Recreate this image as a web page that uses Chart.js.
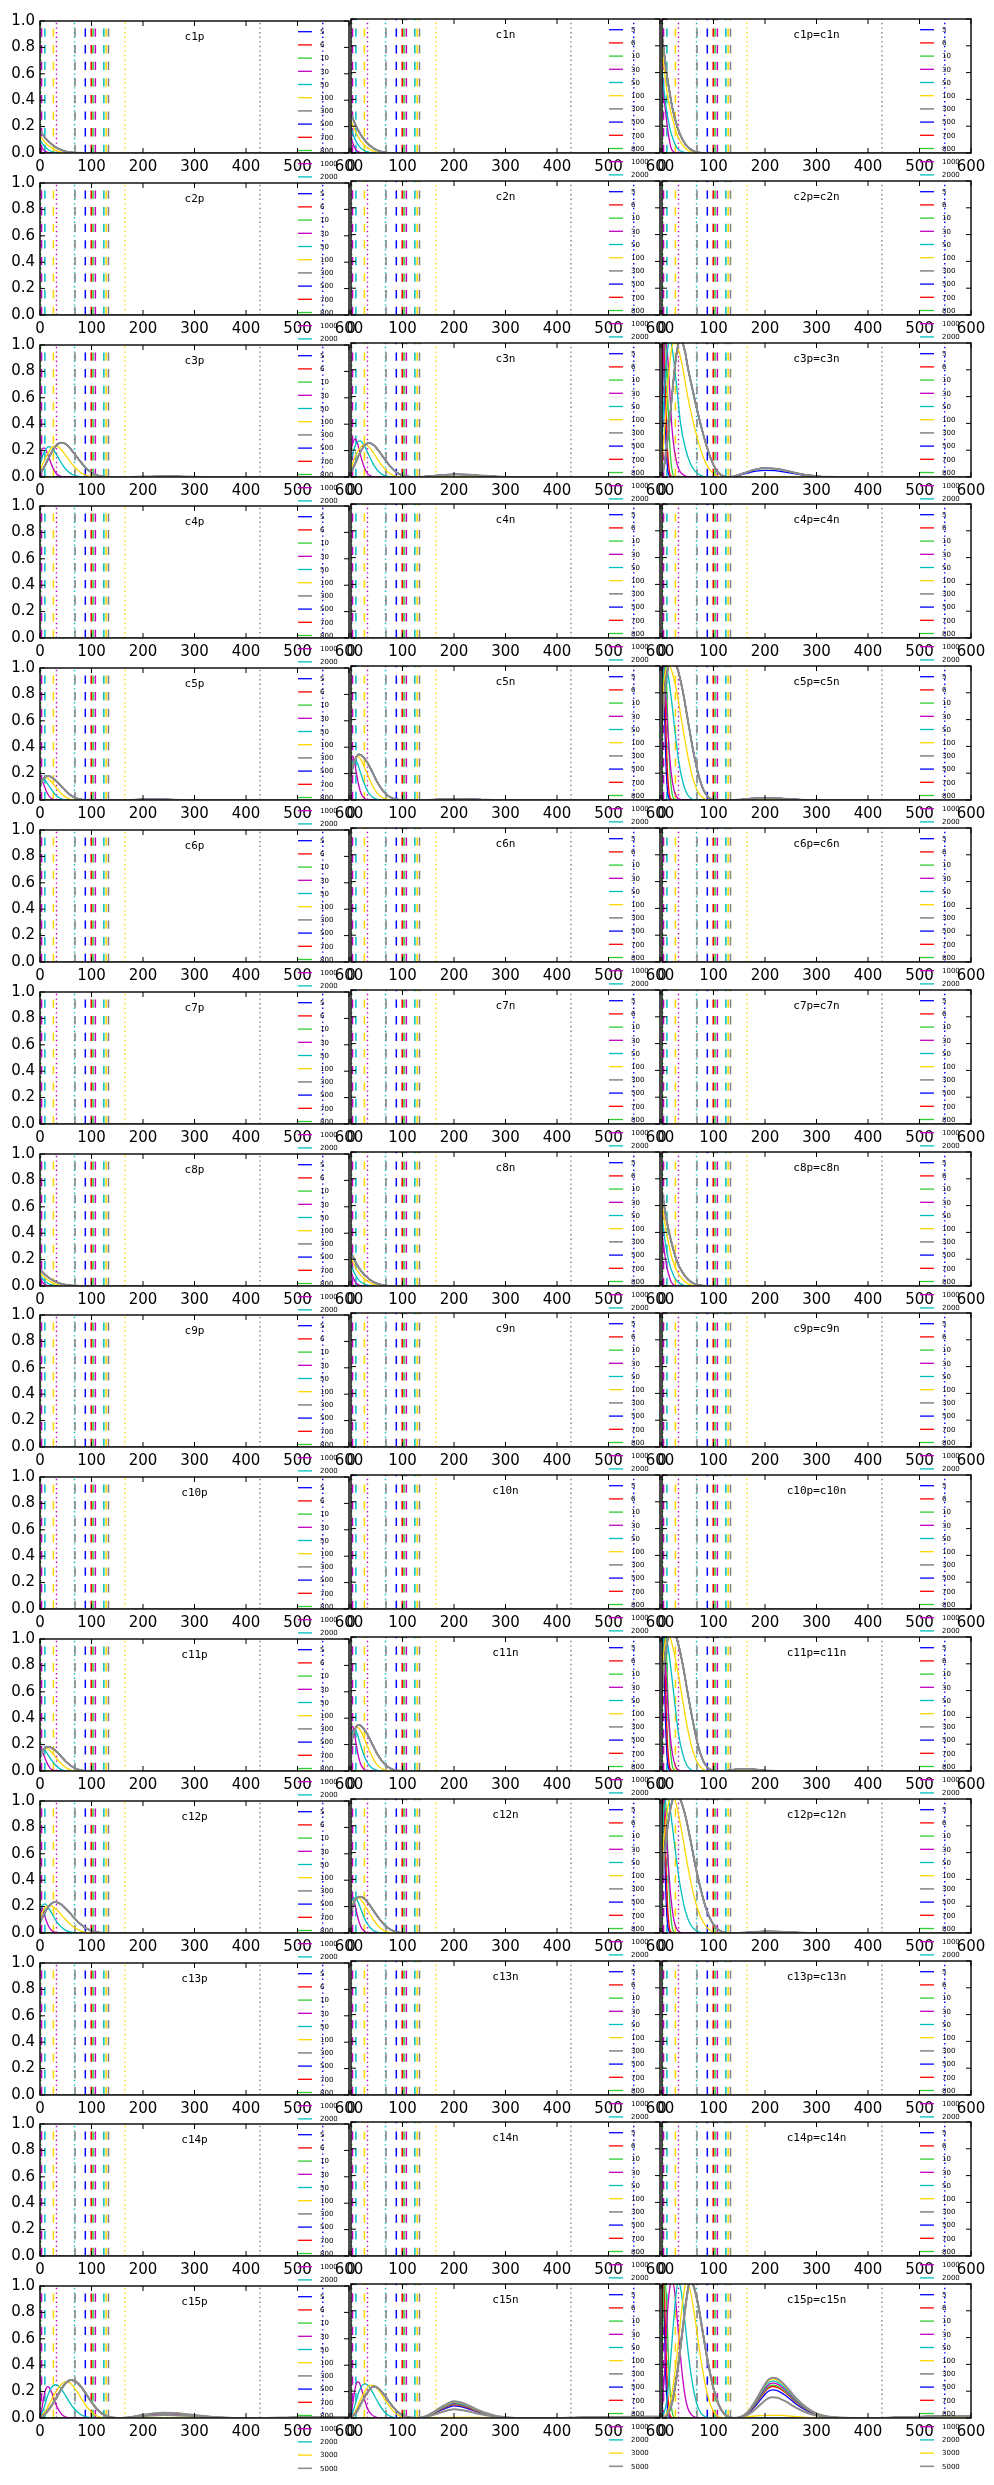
<!DOCTYPE html>
<html><head><meta charset="utf-8">
<script src="https://cdn.jsdelivr.net/npm/chart.js@4.4.0/dist/chart.umd.min.js"></script>
<style>
html,body{margin:0;padding:0;background:#fff;}
#fig{position:relative;width:994px;height:2485px;overflow:hidden;background:#fff;}
#fig canvas{position:absolute;}
</style></head><body><div id="fig"></div>
<script>
// ---------------- categories / labels ----------------
const SERIES_LABELS = ['5','6','10','30','50','100','300','500','700','800','1000','2000','3000','5000'];
const SERIES_COLORS = ['#0000ff','#ff0000','#32cd32','#bf00bf','#00bfbf','#ffd700','#8c8c8c',
                       '#0000ff','#ff0000','#32cd32','#bf00bf','#00bfbf','#ffd700','#8c8c8c'];
const ROW_NAMES = ['c1','c2','c3','c4','c5','c6','c7','c8','c9','c10','c11','c12','c13','c14','c15'];
const X_TICKS = [0,100,200,300,400,500,600];
const Y_TICKS = [0,0.2,0.4,0.6,0.8,1.0];
const X_TICK_LABELS = ['0','100','200','300','400','500','600'];
const Y_TICK_LABELS = ['0.0','0.2','0.4','0.6','0.8','1.0'];

// reference vertical lines (same in every panel)
const DASH_X = [3, 9.5, 26, 68, 88, 99.5, 103, 107.5, 124, 128.5, 133];
const DASH_COLORS = ['#bf00bf','#00bfbf','#ffd700','#808080','#0000ff','#ff0000','#32cd32','#bf00bf','#00bfbf','#ffd700','#808080'];
const DOT_X = [1.5, 32, 67, 165, 427, 549];
const DOT_COLORS = ['#32cd32','#bf00bf','#00bfbf','#ffd700','#808080','#0000ff'];

// ---------------- curve data: [x, y] points ----------------
const ZERO = [[0,0],[600,0]];
const SPIKE_5  = [[0,0.9],[2,1.02],[4,0.8],[7,0.35],[10,0.1],[14,0.01],[18,0],[600,0]];
const SPIKE_6  = [[0,0.75],[2,0.98],[4,1.02],[7,0.6],[10,0.25],[14,0.05],[18,0.005],[22,0],[600,0]];
const SPIKE_10 = [[0,0.5],[3,0.9],[6,1.02],[9,0.85],[12,0.5],[16,0.18],[20,0.04],[26,0],[600,0]];

// row c1
const C1P_30  = [[0,0.07],[4,0.04],[8,0.02],[12,0.008],[18,0.001],[25,0],[600,0]];
const C1P_50  = [[0,0.1],[5,0.07],[10,0.045],[15,0.028],[20,0.015],[30,0.004],[40,0],[600,0]];
const C1P_100 = [[0,0.13],[10,0.08],[20,0.045],[30,0.022],[40,0.008],[50,0.002],[60,0],[600,0]];
const C1P_HI  = [[0,0.17],[10,0.115],[20,0.075],[30,0.045],[40,0.025],[50,0.012],[60,0.005],[70,0.001],[80,0],[600,0]];
const C1N_30  = [[0,0.12],[4,0.07],[8,0.035],[12,0.015],[18,0.003],[25,0],[600,0]];
const C1N_50  = [[0,0.19],[5,0.13],[10,0.085],[15,0.055],[20,0.033],[30,0.01],[40,0.002],[50,0],[600,0]];
const C1N_100 = [[0,0.24],[10,0.15],[20,0.085],[30,0.045],[40,0.02],[50,0.007],[60,0.001],[70,0],[600,0]];
const C1N_HI  = [[0,0.29],[10,0.2],[20,0.13],[30,0.08],[40,0.045],[50,0.022],[60,0.009],[70,0.002],[80,0],[600,0]];
const C1E_30  = [[0,0.6],[3,0.45],[6,0.34],[9,0.24],[12,0.15],[15,0.08],[18,0.035],[22,0.01],[28,0],[600,0]];
const C1E_50  = [[0,0.62],[5,0.43],[10,0.29],[15,0.19],[20,0.12],[25,0.07],[30,0.035],[40,0.008],[50,0],[600,0]];
const C1E_100 = [[0,0.78],[5,0.6],[10,0.45],[15,0.34],[20,0.26],[30,0.13],[40,0.06],[50,0.02],[60,0.005],[70,0],[600,0]];
const C1E_HI  = [[0,0.88],[5,0.72],[10,0.57],[15,0.45],[20,0.34],[30,0.19],[40,0.1],[50,0.045],[60,0.018],[70,0.005],[80,0],[600,0]];

// row c3
const C3P_30  = [[0,0.17],[4,0.21],[8,0.22],[12,0.2],[18,0.14],[25,0.07],[32,0.025],[40,0.005],[50,0],[600,0]];
const C3P_50  = [[0,0.1],[6,0.17],[12,0.215],[18,0.23],[25,0.21],[35,0.15],[45,0.085],[55,0.04],[65,0.015],[80,0.002],[90,0],[600,0]];
const C3P_100 = [[0,0.05],[10,0.14],[20,0.21],[28,0.235],[35,0.23],[45,0.19],[55,0.135],[65,0.085],[75,0.045],[85,0.02],[95,0.006],[110,0],[600,0]];
const C3P_HI  = [[0,0.02],[10,0.09],[20,0.17],[30,0.23],[40,0.26],[50,0.25],[60,0.21],[70,0.16],[80,0.11],[90,0.065],[100,0.035],[110,0.015],[120,0.005],[135,0],[170,0],[200,0.003],[240,0.005],[280,0.003],[330,0],[600,0]];
const C3N_30  = [[0,0.2],[4,0.26],[8,0.285],[12,0.26],[18,0.17],[25,0.08],[32,0.025],[40,0.005],[50,0],[600,0]];
const C3N_50  = [[0,0.12],[6,0.21],[12,0.26],[18,0.27],[25,0.24],[35,0.16],[45,0.085],[55,0.035],[65,0.01],[75,0.002],[85,0],[600,0]];
const C3N_100 = [[0,0.06],[8,0.15],[16,0.21],[25,0.24],[32,0.235],[42,0.19],[52,0.13],[62,0.075],[72,0.035],[82,0.012],[95,0.002],[105,0],[600,0]];
const C3N_HI  = [[0,0.03],[8,0.1],[16,0.17],[25,0.23],[35,0.255],[45,0.235],[55,0.19],[65,0.135],[75,0.085],[85,0.045],[95,0.02],[105,0.007],[115,0.002],[125,0],[150,0.005],[175,0.014],[200,0.02],[225,0.018],[250,0.011],[280,0.004],[310,0],[600,0]];
const C3E_30  = [[0,0.55],[3,0.9],[6,1.02],[9,0.98],[12,0.85],[15,0.65],[19,0.38],[24,0.2],[29,0.1],[35,0.04],[45,0.008],[55,0],[600,0]];
const C3E_50  = [[0,0.25],[4,0.6],[8,0.85],[12,0.98],[16,1.02],[20,0.95],[25,0.8],[30,0.62],[36,0.4],[45,0.22],[55,0.1],[65,0.04],[75,0.012],[85,0.002],[95,0],[600,0]];
const C3E_100 = [[0,0.1],[5,0.35],[10,0.62],[15,0.85],[20,0.98],[25,1.02],[30,0.98],[40,0.82],[50,0.6],[60,0.42],[70,0.27],[80,0.15],[90,0.07],[100,0.025],[110,0.005],[120,0],[180,0],[200,0.003],[240,0.003],[280,0],[600,0]];
const C3E_MAIN = [[0,0.02],[5,0.1],[10,0.25],[15,0.43],[20,0.63],[25,0.82],[30,0.96],[35,1.02],[40,1.0],[45,0.93],[50,0.82],[60,0.64],[70,0.47],[80,0.32],[90,0.19],[100,0.09],[110,0.03],[120,0.005],[130,0]];
const C3E_BX = [140,160,180,200,220,240,260,280,300,320,340,600];
const C3E_B_HI  = [0.005,0.03,0.055,0.066,0.062,0.048,0.03,0.015,0.006,0.001,0,0];
const C3E_B_500 = [0.004,0.023,0.042,0.05,0.047,0.036,0.023,0.011,0.004,0.001,0,0];

// row c5
const C5P_30  = [[0,0.14],[3,0.15],[6,0.13],[10,0.09],[15,0.045],[20,0.018],[27,0.003],[35,0],[600,0]];
const C5P_50  = [[0,0.13],[5,0.16],[10,0.15],[15,0.12],[22,0.08],[30,0.04],[38,0.015],[46,0.003],[55,0],[600,0]];
const C5P_100 = [[0,0.12],[5,0.155],[10,0.17],[15,0.165],[22,0.14],[30,0.1],[40,0.055],[50,0.022],[60,0.005],[70,0],[600,0]];
const C5P_HI  = [[0,0.1],[5,0.15],[10,0.175],[15,0.182],[20,0.178],[30,0.15],[40,0.11],[50,0.068],[60,0.035],[70,0.014],[80,0.004],[90,0],[170,0],[200,0.004],[240,0.004],[280,0],[600,0]];
const C5N_30  = [[0,0.3],[3,0.33],[6,0.3],[10,0.21],[15,0.11],[20,0.045],[27,0.01],[35,0],[600,0]];
const C5N_50  = [[0,0.24],[4,0.29],[8,0.3],[12,0.28],[18,0.21],[25,0.13],[33,0.06],[42,0.02],[52,0.004],[60,0],[600,0]];
const C5N_100 = [[0,0.2],[5,0.28],[10,0.32],[15,0.32],[22,0.28],[30,0.21],[40,0.12],[50,0.055],[60,0.02],[70,0.005],[80,0],[600,0]];
const C5N_HI  = [[0,0.18],[5,0.27],[10,0.32],[15,0.34],[20,0.335],[30,0.29],[40,0.22],[50,0.14],[60,0.08],[70,0.038],[80,0.014],[90,0.004],[100,0],[140,0],[170,0.004],[200,0.007],[230,0.006],[260,0.002],[290,0],[600,0]];
const C5E_30  = [[0,1.0],[3,0.98],[6,0.85],[10,0.6],[14,0.37],[18,0.2],[23,0.08],[28,0.025],[35,0.004],[42,0],[600,0]];
const C5E_50  = [[0,0.85],[4,0.98],[8,1.0],[12,0.93],[18,0.76],[25,0.52],[32,0.3],[40,0.14],[48,0.05],[56,0.012],[65,0],[600,0]];
const C5E_100 = [[0,0.7],[5,0.92],[10,1.0],[15,1.0],[20,0.95],[30,0.78],[40,0.55],[50,0.33],[60,0.16],[70,0.06],[80,0.015],[90,0],[600,0]];
const C5E_HI  = [[0,0.55],[5,0.8],[10,0.95],[15,1.02],[22,1.04],[30,0.98],[40,0.82],[50,0.6],[60,0.38],[70,0.2],[80,0.08],[90,0.02],[100,0.003],[110,0],[140,0],[170,0.01],[200,0.015],[230,0.012],[260,0.004],[290,0],[600,0]];

// row c8
const C8P_30  = [[0,0.06],[4,0.035],[8,0.017],[12,0.007],[18,0.001],[25,0],[600,0]];
const C8P_50  = [[0,0.08],[5,0.055],[10,0.035],[15,0.021],[20,0.012],[30,0.003],[40,0],[600,0]];
const C8P_100 = [[0,0.1],[10,0.06],[20,0.033],[30,0.016],[40,0.006],[50,0.001],[60,0],[600,0]];
const C8P_HI  = [[0,0.125],[10,0.085],[20,0.055],[30,0.033],[40,0.018],[50,0.009],[60,0.004],[70,0.001],[80,0],[600,0]];
const C8N_30  = [[0,0.11],[4,0.065],[8,0.032],[12,0.014],[18,0.003],[25,0],[600,0]];
const C8N_50  = [[0,0.16],[5,0.11],[10,0.072],[15,0.046],[20,0.028],[30,0.009],[40,0.002],[50,0],[600,0]];
const C8N_100 = [[0,0.21],[10,0.13],[20,0.075],[30,0.04],[40,0.018],[50,0.006],[60,0.001],[70,0],[600,0]];
const C8N_HI  = [[0,0.25],[10,0.17],[20,0.11],[30,0.068],[40,0.038],[50,0.019],[60,0.008],[70,0.002],[80,0],[600,0]];
const C8E_30  = [[0,0.4],[3,0.3],[6,0.22],[9,0.15],[12,0.1],[15,0.06],[18,0.03],[22,0.01],[28,0],[600,0]];
const C8E_50  = [[0,0.52],[5,0.36],[10,0.24],[15,0.16],[20,0.1],[25,0.06],[30,0.033],[40,0.008],[50,0],[600,0]];
const C8E_100 = [[0,0.62],[5,0.48],[10,0.37],[15,0.28],[20,0.2],[30,0.105],[40,0.05],[50,0.018],[60,0.004],[70,0],[600,0]];
const C8E_HI  = [[0,0.7],[5,0.58],[10,0.47],[15,0.38],[20,0.3],[30,0.175],[40,0.1],[50,0.05],[60,0.022],[70,0.008],[80,0.002],[90,0],[600,0]];

// row c11
const C11P_30  = [[0,0.14],[3,0.15],[6,0.135],[10,0.095],[15,0.05],[20,0.02],[27,0.004],[35,0],[600,0]];
const C11P_50  = [[0,0.13],[5,0.16],[10,0.155],[15,0.125],[22,0.085],[30,0.045],[38,0.018],[46,0.005],[55,0],[600,0]];
const C11P_100 = [[0,0.12],[5,0.155],[10,0.17],[15,0.168],[22,0.145],[30,0.105],[40,0.06],[50,0.026],[60,0.007],[70,0],[600,0]];
const C11P_HI  = [[0,0.1],[5,0.15],[10,0.175],[15,0.183],[20,0.18],[30,0.155],[40,0.115],[50,0.073],[60,0.04],[70,0.017],[80,0.005],[90,0],[600,0]];
const C11N_30  = [[0,0.31],[3,0.335],[6,0.3],[10,0.2],[15,0.1],[20,0.04],[27,0.008],[35,0],[600,0]];
const C11N_50  = [[0,0.26],[4,0.3],[8,0.305],[12,0.28],[18,0.2],[25,0.12],[33,0.055],[42,0.018],[52,0.003],[60,0],[600,0]];
const C11N_100 = [[0,0.22],[5,0.29],[10,0.325],[15,0.32],[22,0.275],[30,0.2],[40,0.115],[50,0.05],[60,0.017],[70,0.004],[80,0],[600,0]];
const C11N_HI  = [[0,0.2],[5,0.28],[10,0.33],[15,0.343],[20,0.335],[30,0.285],[40,0.21],[50,0.135],[60,0.075],[70,0.035],[80,0.013],[90,0.003],[100,0],[600,0]];
const C11E_30  = [[0,1.0],[3,0.97],[6,0.83],[10,0.58],[14,0.35],[18,0.19],[23,0.075],[28,0.022],[35,0.003],[42,0],[600,0]];
const C11E_50  = [[0,0.87],[4,0.99],[8,1.0],[12,0.92],[18,0.74],[25,0.5],[32,0.28],[40,0.13],[48,0.045],[56,0.01],[65,0],[600,0]];
const C11E_100 = [[0,0.72],[5,0.93],[10,1.01],[15,1.0],[20,0.94],[30,0.76],[40,0.53],[50,0.31],[60,0.15],[70,0.055],[80,0.013],[90,0],[600,0]];
const C11E_HI  = [[0,0.57],[5,0.82],[10,0.96],[15,1.03],[22,1.04],[30,0.97],[40,0.8],[50,0.58],[60,0.37],[70,0.19],[80,0.075],[90,0.02],[100,0.003],[110,0],[120,0],[135,0.008],[150,0.014],[170,0.015],[190,0.008],[210,0.002],[230,0],[600,0]];

// row c12
const C12P_30  = [[0,0.2],[3,0.2],[6,0.17],[10,0.12],[15,0.065],[20,0.03],[27,0.008],[35,0],[600,0]];
const C12P_50  = [[0,0.17],[5,0.21],[10,0.22],[15,0.2],[22,0.155],[30,0.1],[40,0.05],[50,0.02],[60,0.006],[70,0],[600,0]];
const C12P_100 = [[0,0.12],[8,0.18],[15,0.205],[22,0.205],[30,0.185],[40,0.145],[50,0.1],[60,0.062],[70,0.033],[80,0.015],[90,0.005],[100,0],[600,0]];
const C12P_HI  = [[0,0.08],[10,0.16],[20,0.215],[28,0.234],[35,0.23],[45,0.205],[55,0.165],[65,0.12],[75,0.08],[85,0.048],[95,0.025],[105,0.011],[115,0.003],[125,0],[600,0]];
const C12N_30  = [[0,0.26],[3,0.27],[6,0.24],[10,0.17],[15,0.09],[20,0.04],[27,0.01],[35,0],[600,0]];
const C12N_50  = [[0,0.22],[4,0.255],[8,0.262],[12,0.245],[18,0.19],[25,0.12],[33,0.06],[42,0.022],[52,0.005],[60,0],[600,0]];
const C12N_100 = [[0,0.18],[5,0.235],[10,0.26],[15,0.262],[22,0.235],[30,0.185],[40,0.12],[50,0.065],[60,0.028],[70,0.009],[80,0.002],[90,0],[600,0]];
const C12N_HI  = [[0,0.15],[5,0.22],[10,0.255],[17,0.27],[25,0.26],[35,0.215],[45,0.16],[55,0.105],[65,0.06],[75,0.03],[85,0.012],[95,0.003],[105,0],[600,0]];
const C12E_30  = [[0,0.95],[3,1.02],[6,0.9],[10,0.65],[14,0.42],[18,0.24],[23,0.1],[28,0.035],[35,0.006],[42,0],[600,0]];
const C12E_50  = [[0,0.75],[5,0.95],[10,1.02],[15,0.95],[20,0.8],[27,0.58],[35,0.36],[45,0.17],[55,0.065],[65,0.02],[75,0.004],[85,0],[600,0]];
const C12E_100 = [[0,0.55],[8,0.85],[15,1.0],[22,1.02],[30,0.92],[40,0.72],[50,0.5],[60,0.31],[70,0.17],[80,0.08],[90,0.03],[100,0.008],[110,0],[600,0]];
const C12E_HI  = [[0,0.4],[8,0.7],[16,0.92],[26,1.03],[35,1.0],[45,0.88],[55,0.7],[65,0.5],[75,0.33],[85,0.19],[95,0.095],[105,0.04],[115,0.012],[125,0.002],[135,0],[150,0],[170,0.006],[200,0.012],[230,0.01],[260,0.004],[290,0],[600,0]];

// row c15 (14 series)
const C15P_30  = [[0,0],[4,0.08],[8,0.17],[12,0.225],[15,0.238],[18,0.23],[24,0.18],[30,0.11],[38,0.05],[46,0.015],[55,0.002],[65,0],[600,0]];
const C15P_50  = [[0,0],[8,0.08],[15,0.17],[22,0.23],[30,0.252],[38,0.235],[48,0.18],[58,0.115],[68,0.062],[80,0.025],[92,0.006],[105,0],[600,0]];
const C15P_100 = [[0,0],[10,0.05],[20,0.12],[30,0.19],[40,0.25],[50,0.275],[60,0.26],[70,0.21],[80,0.15],[90,0.09],[100,0.045],[110,0.017],[120,0.004],[130,0],[600,0]];
const C15P_MAIN = [[0,0],[10,0.03],[20,0.08],[30,0.14],[40,0.21],[50,0.265],[60,0.288],[70,0.275],[80,0.235],[90,0.18],[100,0.12],[110,0.07],[120,0.035],[130,0.013],[140,0.003],[150,0]];
const C15P_BX = [160,180,200,220,240,260,280,300,330,360,390];
const C15P_B_LO  = [0,0.0055,0.013,0.019,0.022,0.021,0.017,0.012,0.0055,0.0013,0];
const C15P_B_MID = [0,0.0075,0.018,0.026,0.03,0.0285,0.023,0.0165,0.0075,0.002,0];
const C15P_B_HI  = [0,0.01,0.024,0.035,0.04,0.038,0.031,0.022,0.01,0.0024,0];
const C15P_TAIL = [[420,0],[500,0.004],[600,0.006]];

const C15N_30  = [[0,0.02],[4,0.12],[8,0.22],[12,0.27],[16,0.265],[20,0.22],[26,0.14],[32,0.07],[40,0.025],[50,0.004],[60,0],[600,0]];
const C15N_50  = [[0,0.01],[8,0.1],[15,0.19],[22,0.245],[28,0.255],[35,0.235],[45,0.17],[55,0.1],[65,0.045],[75,0.015],[85,0.003],[95,0],[600,0]];
const C15N_100 = [[0,0],[10,0.06],[20,0.15],[30,0.22],[38,0.245],[45,0.24],[55,0.2],[65,0.14],[75,0.085],[85,0.04],[95,0.014],[105,0.003],[115,0],[160,0],[200,0.005],[240,0.004],[280,0],[600,0]];
const C15N_MAIN = [[0,0],[10,0.04],[20,0.11],[30,0.18],[40,0.228],[46,0.235],[55,0.215],[65,0.17],[75,0.115],[85,0.068],[95,0.033],[105,0.012],[115,0.003],[125,0]];
const C15N_BX = [130,145,160,175,190,200,210,225,245,265,285,305,330];
const C15N_B300  = [0,0.007,0.023,0.042,0.059,0.065,0.062,0.052,0.033,0.018,0.007,0.002,0];
const C15N_B500  = [0,0.009,0.032,0.059,0.081,0.09,0.086,0.072,0.045,0.024,0.009,0.003,0];
const C15N_B700  = [0,0.01,0.035,0.065,0.09,0.1,0.095,0.08,0.05,0.027,0.01,0.003,0];
const C15N_B800  = [0,0.011,0.037,0.068,0.095,0.105,0.1,0.084,0.053,0.028,0.011,0.003,0];
const C15N_B1000 = [0,0.011,0.039,0.072,0.099,0.11,0.105,0.088,0.055,0.03,0.011,0.003,0];
const C15N_B2000 = [0,0.012,0.04,0.075,0.104,0.115,0.109,0.092,0.058,0.031,0.012,0.003,0];
const C15N_B3000 = [0,0.012,0.042,0.078,0.108,0.12,0.114,0.096,0.06,0.032,0.012,0.004,0];
const C15N_B5000 = [0,0.013,0.044,0.081,0.113,0.125,0.119,0.1,0.063,0.034,0.013,0.004,0];
const C15N_TAIL = [[380,0],[450,0.004],[520,0.008],[600,0.01]];

const C15E_30  = [[0,0.05],[5,0.35],[10,0.75],[15,0.97],[20,1.02],[25,0.93],[30,0.72],[35,0.5],[40,0.3],[45,0.16],[50,0.075],[57,0.025],[65,0.005],[75,0],[600,0]];
const C15E_50  = [[0,0],[8,0.1],[15,0.35],[22,0.7],[28,0.95],[32,1.02],[37,0.95],[45,0.7],[52,0.45],[60,0.24],[68,0.1],[76,0.035],[85,0.008],[95,0],[600,0]];
const C15E_100 = [[0,0],[10,0.04],[20,0.2],[30,0.5],[38,0.8],[44,0.97],[48,1.02],[55,0.95],[65,0.72],[75,0.45],[85,0.23],[95,0.09],[105,0.025],[115,0.004],[125,0],[150,0],[170,0.01],[200,0.02],[230,0.02],[260,0.01],[290,0.002],[320,0],[600,0]];
const C15E_MAIN = [[0,0],[10,0.02],[20,0.12],[30,0.35],[40,0.66],[48,0.9],[54,1.02],[60,1.0],[70,0.85],[80,0.62],[90,0.4],[100,0.22],[110,0.1],[120,0.035],[130,0.008],[140,0]];
const C15E_BX = [150,165,180,195,205,215,225,240,260,280,300,325,350,380];
const C15E_B300  = [0.003,0.021,0.062,0.114,0.145,0.155,0.15,0.124,0.078,0.041,0.018,0.005,0.001,0];
const C15E_B500  = [0.004,0.028,0.084,0.154,0.196,0.21,0.203,0.168,0.105,0.056,0.025,0.007,0.001,0];
const C15E_B700  = [0.004,0.031,0.094,0.172,0.219,0.235,0.227,0.188,0.118,0.063,0.027,0.008,0.002,0];
const C15E_B800  = [0.004,0.033,0.098,0.18,0.229,0.245,0.237,0.196,0.123,0.065,0.029,0.008,0.002,0];
const C15E_B1000 = [0.004,0.035,0.104,0.191,0.243,0.26,0.251,0.208,0.13,0.069,0.03,0.009,0.002,0];
const C15E_B2000 = [0.005,0.037,0.11,0.202,0.257,0.275,0.266,0.22,0.138,0.073,0.032,0.009,0.002,0];
const C15E_B3000 = [0.005,0.039,0.116,0.213,0.271,0.29,0.28,0.232,0.145,0.077,0.034,0.01,0.002,0];
const C15E_B5000 = [0.005,0.04,0.12,0.22,0.28,0.3,0.29,0.24,0.15,0.08,0.035,0.01,0.002,0];
const C15E_TAIL = [[420,0],[470,0.006],[520,0.012],[570,0.014],[600,0.014]];

// ---------------- tables built from the arrays above ----------------
function join(main, bx, by, tail){
  return main.concat(bx.map((x,i)=>[x, by[i]]), tail || []);
}
function set12(lo, m, c, y, h, h500){
  return [lo[0], lo[1], lo[2], m, c, y, h, h500 || h, h, h, h, h];
}
const NOSPIKE = [ZERO, ZERO, ZERO];
const SPIKES = [SPIKE_5, SPIKE_6, SPIKE_10];
const C3E_HI = join(C3E_MAIN, C3E_BX, C3E_B_HI);
const C3E_500 = join(C3E_MAIN, C3E_BX, C3E_B_500);

const PANEL_DATA = {
  'c1p': set12(NOSPIKE, C1P_30, C1P_50, C1P_100, C1P_HI),
  'c1n': set12(NOSPIKE, C1N_30, C1N_50, C1N_100, C1N_HI),
  'c1p=c1n': set12(NOSPIKE, C1E_30, C1E_50, C1E_100, C1E_HI),
  'c3p': set12(NOSPIKE, C3P_30, C3P_50, C3P_100, C3P_HI),
  'c3n': set12(NOSPIKE, C3N_30, C3N_50, C3N_100, C3N_HI),
  'c3p=c3n': set12(SPIKES, C3E_30, C3E_50, C3E_100, C3E_HI, C3E_500),
  'c5p': set12(NOSPIKE, C5P_30, C5P_50, C5P_100, C5P_HI),
  'c5n': set12(NOSPIKE, C5N_30, C5N_50, C5N_100, C5N_HI),
  'c5p=c5n': set12(SPIKES, C5E_30, C5E_50, C5E_100, C5E_HI),
  'c8p': set12(NOSPIKE, C8P_30, C8P_50, C8P_100, C8P_HI),
  'c8n': set12(NOSPIKE, C8N_30, C8N_50, C8N_100, C8N_HI),
  'c8p=c8n': set12(NOSPIKE, C8E_30, C8E_50, C8E_100, C8E_HI),
  'c11p': set12(NOSPIKE, C11P_30, C11P_50, C11P_100, C11P_HI),
  'c11n': set12(NOSPIKE, C11N_30, C11N_50, C11N_100, C11N_HI),
  'c11p=c11n': set12(SPIKES, C11E_30, C11E_50, C11E_100, C11E_HI),
  'c12p': set12(NOSPIKE, C12P_30, C12P_50, C12P_100, C12P_HI),
  'c12n': set12(NOSPIKE, C12N_30, C12N_50, C12N_100, C12N_HI),
  'c12p=c12n': set12(SPIKES, C12E_30, C12E_50, C12E_100, C12E_HI),
  'c15p': [ZERO, ZERO, ZERO, C15P_30, C15P_50, C15P_100,
    join(C15P_MAIN, C15P_BX, C15P_B_LO, C15P_TAIL), join(C15P_MAIN, C15P_BX, C15P_B_MID, C15P_TAIL),
    join(C15P_MAIN, C15P_BX, C15P_B_MID, C15P_TAIL), join(C15P_MAIN, C15P_BX, C15P_B_MID, C15P_TAIL),
    join(C15P_MAIN, C15P_BX, C15P_B_MID, C15P_TAIL), join(C15P_MAIN, C15P_BX, C15P_B_HI, C15P_TAIL),
    join(C15P_MAIN, C15P_BX, C15P_B_HI, C15P_TAIL), join(C15P_MAIN, C15P_BX, C15P_B_HI, C15P_TAIL)],
  'c15n': [ZERO, ZERO, ZERO, C15N_30, C15N_50, C15N_100,
    join(C15N_MAIN, C15N_BX, C15N_B300, C15N_TAIL), join(C15N_MAIN, C15N_BX, C15N_B500, C15N_TAIL),
    join(C15N_MAIN, C15N_BX, C15N_B700, C15N_TAIL), join(C15N_MAIN, C15N_BX, C15N_B800, C15N_TAIL),
    join(C15N_MAIN, C15N_BX, C15N_B1000, C15N_TAIL), join(C15N_MAIN, C15N_BX, C15N_B2000, C15N_TAIL),
    join(C15N_MAIN, C15N_BX, C15N_B3000, C15N_TAIL), join(C15N_MAIN, C15N_BX, C15N_B5000, C15N_TAIL)],
  'c15p=c15n': [SPIKE_5, SPIKE_6, SPIKE_10, C15E_30, C15E_50, C15E_100,
    join(C15E_MAIN, C15E_BX, C15E_B300, C15E_TAIL), join(C15E_MAIN, C15E_BX, C15E_B500, C15E_TAIL),
    join(C15E_MAIN, C15E_BX, C15E_B700, C15E_TAIL), join(C15E_MAIN, C15E_BX, C15E_B800, C15E_TAIL),
    join(C15E_MAIN, C15E_BX, C15E_B1000, C15E_TAIL), join(C15E_MAIN, C15E_BX, C15E_B2000, C15E_TAIL),
    join(C15E_MAIN, C15E_BX, C15E_B3000, C15E_TAIL), join(C15E_MAIN, C15E_BX, C15E_B5000, C15E_TAIL)]
};

// ---------------- layout ----------------
const COL_L = [40, 351, 662];
const PANEL_W = 309, PANEL_H = 134;
const ROW0 = 19, ROW_STEP = 161.8;
const PAD_L = 40, PAD_T = 12, PAD_R = 22, PAD_B = 72;
const GRAY = '#8c8c8c';

Chart.defaults.font.family = '"DejaVu Sans", sans-serif';

function decorPlugin(title){
  return {
    id: 'decor',
    afterDatasetsDraw(chart){
      const ctx = chart.ctx, a = chart.chartArea, xs = chart.scales.x, ys = chart.scales.y;
      ctx.save();
      ctx.setLineDash([]);
      ctx.strokeStyle = '#000'; ctx.lineWidth = 1;
      ctx.beginPath();
      X_TICKS.forEach(v => { const p = xs.getPixelForValue(v);
        ctx.moveTo(p, a.bottom); ctx.lineTo(p, a.bottom - 5);
        ctx.moveTo(p, a.top); ctx.lineTo(p, a.top + 5); });
      Y_TICKS.forEach(v => { const p = ys.getPixelForValue(v);
        ctx.moveTo(a.left, p); ctx.lineTo(a.left + 5, p);
        ctx.moveTo(a.right, p); ctx.lineTo(a.right - 5, p); });
      ctx.stroke();
      ctx.lineWidth = 1.4;
      ctx.strokeRect(a.left, a.top, a.right - a.left, a.bottom - a.top);
      // title
      ctx.fillStyle = '#000';
      ctx.font = '11px "DejaVu Sans Mono"';
      ctx.textAlign = 'center'; ctx.textBaseline = 'middle';
      ctx.fillText(title, (a.left + a.right) / 2, a.top + 16);
      // legend
      ctx.font = '7px "DejaVu Sans"';
      ctx.textAlign = 'left';
      const curves = chart.data.datasets.filter(d => d.isCurve);
      curves.forEach((d, i) => {
        const y = a.top + 10.7 + i * 13.2;
        ctx.strokeStyle = d.borderColor; ctx.lineWidth = Math.min(d.borderWidth, 1.6);
        ctx.beginPath(); ctx.moveTo(a.left + 258, y); ctx.lineTo(a.left + 272, y); ctx.stroke();
        ctx.fillStyle = '#000';
        ctx.fillText(d.label, a.left + 280, y + 0.5);
      });
      ctx.restore();
    }
  };
}

const fig = document.getElementById('fig');
ROW_NAMES.forEach((rn, r) => {
  const names = [rn + 'p', rn + 'n', rn + 'p=' + rn + 'n'];
  const nSeries = (r === 14) ? 14 : 12;
  const top = Math.round(ROW0 + r * ROW_STEP);
  names.forEach((pn, c) => {
    const cv = document.createElement('canvas');
    const W = PANEL_W + PAD_L + PAD_R, H = PANEL_H + PAD_T + PAD_B;
    cv.width = W; cv.height = H;
    cv.style.width = W + 'px'; cv.style.height = H + 'px';
    cv.style.left = (COL_L[c] - PAD_L) + 'px';
    cv.style.top = (top - PAD_T) + 'px';
    fig.appendChild(cv);

    const datasets = [];
    DASH_X.forEach((x, i) => datasets.push({
      data: [{x: x, y: 0}, {x: x, y: 1}], borderColor: DASH_COLORS[i], borderWidth: 1.5,
      borderDash: [8.3, 8.3], pointRadius: 0, order: 1000, clip: 0, fill: false }));
    DOT_X.forEach((x, i) => datasets.push({
      data: [{x: x, y: 0}, {x: x, y: 1}], borderColor: DOT_COLORS[i], borderWidth: 1.4,
      borderDash: [1.4, 3.2], pointRadius: 0, order: 1000, clip: 0, fill: false }));
    const series = PANEL_DATA[pn] || Array(nSeries).fill(ZERO);
    for (let i = 0; i < nSeries; i++) {
      const isGray = SERIES_COLORS[i] === GRAY;
      datasets.push({
        label: SERIES_LABELS[i], isCurve: true,
        data: series[i].map(p => ({x: p[0], y: p[1]})),
        borderColor: SERIES_COLORS[i], borderWidth: isGray ? 2.0 : 1.3,
        cubicInterpolationMode: 'monotone', pointRadius: 0, clip: 0, fill: false,
        order: isGray ? -100 - i : -i
      });
    }

    new Chart(cv, {
      type: 'line',
      data: { datasets },
      options: {
        animation: false, responsive: false, devicePixelRatio: 1, events: [],
        layout: { padding: { left: 0, top: PAD_T, right: PAD_R, bottom: 0 } },
        plugins: { legend: { display: false }, tooltip: { enabled: false } },
        scales: {
          x: { type: 'linear', min: 0, max: 600,
               afterBuildTicks: s => { s.ticks = X_TICKS.map(v => ({value: v})); },
               ticks: { autoSkip: false, maxRotation: 0, color: '#000', padding: 5,
                        font: { size: 15, family: '"DejaVu Sans"' },
                        callback: (v) => X_TICK_LABELS[X_TICKS.indexOf(v)] },
               grid: { display: false, drawTicks: false }, border: { display: false },
               afterFit: s => { s.height = PAD_B; } },
          y: { type: 'linear', min: 0, max: 1,
               afterBuildTicks: s => { s.ticks = Y_TICKS.map(v => ({value: v})); },
               ticks: { display: c === 0, color: '#000', padding: 5,
                        font: { size: 15, family: '"DejaVu Sans"' },
                        callback: (v) => Y_TICK_LABELS[Y_TICKS.indexOf(v)] },
               grid: { display: false, drawTicks: false }, border: { display: false },
               afterFit: s => { s.width = PAD_L; } }
        }
      },
      plugins: [decorPlugin(pn)]
    });
  });
});
</script></body></html>
